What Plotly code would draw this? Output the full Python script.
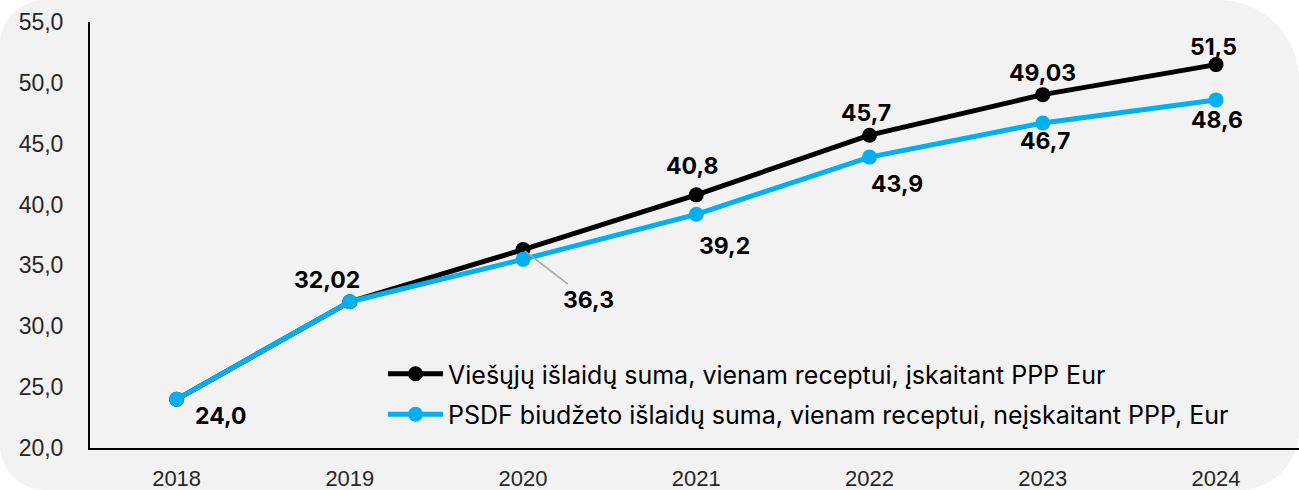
import plotly.graph_objects as go

years = ["2018", "2019", "2020", "2021", "2022", "2023", "2024"]
viesuju = [24.0, 32.02, 36.3, 40.8, 45.7, 49.03, 51.5]
psdf = [24.0, 32.02, 35.5, 39.2, 43.9, 46.7, 48.6]
name_viesuju = "Viešųjų išlaidų suma, vienam receptui, įskaitant PPP Eur"
name_psdf = "PSDF biudžeto išlaidų suma, vienam receptui, neįskaitant PPP, Eur"
y_ticks = [20, 25, 30, 35, 40, 45, 50, 55]

BLACK = "#000000"
BLUE = "#00B0F0"
LABEL_FONT = "Inter, Liberation Sans, Arial, sans-serif"
TICK_FONT = "Liberation Sans, Arial, sans-serif"


def fmt(v):
    s = f"{v:.1f}" if abs(round(v, 1) - v) < 1e-9 else f"{v:.2f}"
    return s.replace(".", ",")


fig = go.Figure()
fig.add_trace(go.Scatter(
    x=years, y=viesuju, name=name_viesuju, mode="lines+markers", legendgroup="a",
    line=dict(color=BLACK, width=5), marker=dict(color=BLACK, size=15),
))
fig.add_trace(go.Scatter(
    x=years, y=psdf, name=name_psdf, mode="lines+markers", legendgroup="b",
    line=dict(color=BLUE, width=5), marker=dict(color=BLUE, size=15),
))

# label offsets (pixels) per point: None = no label
black_off = [None, (-23, 22), "callout", (-4, 29), (-4, 22), (0, 22), (-3, 18)]
blue_off = [(44, -17), None, None, (28, -32), (27, -27), (2, -18), (1, -20)]
LBL_SIZE = 23

annotations = []
for i, (v, off) in enumerate(zip(viesuju, black_off)):
    if off is None:
        continue
    a = dict(x=i, y=v, xref="x", yref="y", text="<b>" + fmt(v) + "</b>",
             font=dict(family=LABEL_FONT, size=LBL_SIZE, color="#000000"))
    if off == "callout":
        a.update(showarrow=True, arrowhead=0, arrowcolor="#A6A6A6", arrowwidth=1.5,
                 ax=65, ay=50, standoff=2)
    else:
        a.update(showarrow=False, xshift=off[0], yshift=off[1])
    annotations.append(a)
for i, (v, off) in enumerate(zip(psdf, blue_off)):
    if off is None:
        continue
    annotations.append(dict(
        x=i, y=v, xref="x", yref="y", text="<b>" + fmt(v) + "</b>", showarrow=False,
        xshift=off[0], yshift=off[1],
        font=dict(family=LABEL_FONT, size=LBL_SIZE, color="#000000"),
    ))

W, H = 1299, 490
L, R, T, B = 90, 0, 22, 42
PW, PH = W - L - R, H - T - B

fig.update_layout(
    width=W, height=H,
    margin=dict(l=L, r=R, t=T, b=B, autoexpand=False),
    paper_bgcolor="rgba(0,0,0,0)",
    plot_bgcolor="rgba(0,0,0,0)",
    separators=", ",
    showlegend=True,
    legend=dict(
        x=(383 - L) / PW, y=(H - B - 351) / PH, xanchor="left", yanchor="top",
        bgcolor="rgba(0,0,0,0)", itemwidth=55, tracegroupgap=5,
        font=dict(family=LABEL_FONT, size=25, color="#000000"),
    ),
    annotations=annotations,
)
fig.update_xaxes(
    type="category", range=[-0.5, 6.479], showgrid=False, zeroline=False,
    showline=True, linecolor="#000000", linewidth=2, ticks="",
    ticklabelstandoff=10,
    tickfont=dict(family=TICK_FONT, size=22, color="#262626"),
)
fig.update_yaxes(
    range=[20, 55], tickvals=y_ticks, tickformat=".1f", showgrid=False, zeroline=False,
    showline=True, linecolor="#000000", linewidth=2, ticks="",
    ticklabelstandoff=20,
    tickfont=dict(family=TICK_FONT, size=23, color="#262626"),
)

post = (
    "document.body.style.margin='0';"
    "document.body.style.background='#FFFFFF';"
    "var d=document.getElementById('{plot_id}');"
    "d.style.background='#F2F2F2';"
    "d.style.borderRadius='45px 80px 60px 45px';"
)
fig.write_html("out.html", post_script=post, config={"displayModeBar": False})
